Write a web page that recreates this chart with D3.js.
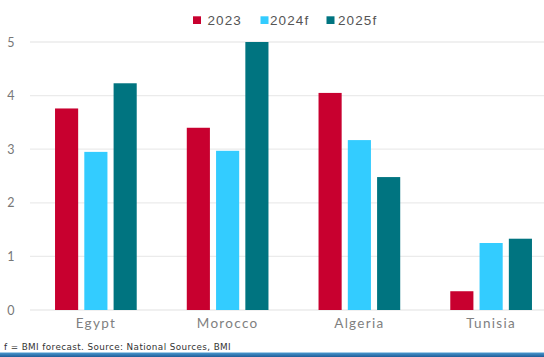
<!DOCTYPE html>
<html>
<head>
<meta charset="utf-8">
<script src="https://cdn.jsdelivr.net/npm/d3@7"></script>
<style>
html,body{margin:0;padding:0;background:#fff;}
svg{display:block;font-family:Lato, "Open Sans", sans-serif;}
</style>
</head>
<body>
<svg id="chart" width="544" height="357"></svg>
<script>
const categories = ["Egypt", "Morocco", "Algeria", "Tunisia"];
const seriesNames = ["2023", "2024f", "2025f"];
const values2023 = [3.76, 3.40, 4.05, 0.35];
const values2024f = [2.95, 2.97, 3.17, 1.25];
const values2025f = [4.23, 5.0, 2.48, 1.33];
const yTicks = [0, 1, 2, 3, 4, 5];
const footnote = "f = BMI forecast. Source: National Sources, BMI";

const seriesValues = [values2023, values2024f, values2025f];
const colors = ["#c8002f", "#33ccff", "#007480"];

const svg = d3.select("#chart");
const W = 544, H = 357;
const mLeft = 30, mRight = 557, mTop = 42, mBottom = 310;

const x0 = d3.scaleBand().domain(categories).range([mLeft, mRight]).paddingInner(0.38).paddingOuter(0.19);
const x1 = d3.scaleBand().domain(seriesNames).range([0, x0.bandwidth()]).paddingInner(0.21);
const y = d3.scaleLinear().domain([0, 5]).range([mBottom, mTop]);

// gridlines
svg.append("g").selectAll("line").data(yTicks).join("line")
  .attr("x1", mLeft).attr("x2", W)
  .attr("y1", d => y(d)).attr("y2", d => y(d))
  .attr("stroke", "#ebebeb").attr("stroke-width", 1.3);

// y labels
const yAxis = d3.axisLeft(y).tickValues(yTicks).tickSize(0).tickPadding(0).tickFormat(d3.format("d"));
const ya = svg.append("g").attr("transform", "translate(15,0)").call(yAxis);
ya.select(".domain").remove();
ya.selectAll("text").attr("fill", "#777").style("font-size", "12.5px").style("letter-spacing", "0.5px")
  .style("font-family", "Lato, sans-serif");

// bars
const groups = svg.append("g").selectAll("g").data(categories).join("g")
  .attr("transform", d => `translate(${x0(d)},0)`);
groups.selectAll("rect").data((c, i) => seriesNames.map((s, j) => ({s, v: seriesValues[j][i], j})))
  .join("rect")
  .attr("x", d => x1(d.s))
  .attr("width", x1.bandwidth())
  .attr("y", d => y(d.v))
  .attr("height", d => y(0) - y(d.v))
  .attr("fill", d => colors[d.j]);

// x labels
const xAxis = d3.axisBottom(x0).tickSize(0).tickPadding(0);
const xa = svg.append("g").attr("transform", `translate(0,${mBottom + 8})`).call(xAxis);
xa.select(".domain").remove();
xa.selectAll("text").attr("fill", "#808080").style("font-size", "13.5px").style("letter-spacing", "1.3px")
  .style("font-family", "Lato, sans-serif").attr("dy", "0.75em");

// legend
const legendItems = [
  {name: seriesNames[0], sx: 193, tx: 207.5},
  {name: seriesNames[1], sx: 260.5, tx: 270},
  {name: seriesNames[2], sx: 326.5, tx: 338}
];
const lg = svg.append("g");
legendItems.forEach((it, i) => {
  lg.append("rect").attr("x", it.sx).attr("y", 16.3).attr("width", 8).attr("height", 7.7).attr("fill", colors[i]);
  lg.append("text").attr("x", it.tx).attr("y", 20.3).attr("dy", "0.35em")
    .attr("fill", "#555").style("font-size", "13.5px").style("letter-spacing", "1.1px")
    .style("font-family", "'Liberation Sans', Arial, sans-serif").text(it.name);
});

// footnote
svg.append("text").attr("x", 4).attr("y", 350.3).attr("fill", "#333")
  .style("font-size", "8.8px").style("letter-spacing", "0.4px")
  .style("font-family", "'DejaVu Sans', sans-serif").text(footnote);

// bottom bar
const grad = svg.append("defs").append("linearGradient").attr("id", "bb").attr("x1", 0).attr("x2", 0).attr("y1", 0).attr("y2", 1);
grad.append("stop").attr("offset", "0%").attr("stop-color", "#4a9ad0");
grad.append("stop").attr("offset", "100%").attr("stop-color", "#1f5c98");
svg.append("rect").attr("x", 0).attr("y", 352.5).attr("width", W).attr("height", 4.5).attr("fill", "url(#bb)");
</script>
</body>
</html>
